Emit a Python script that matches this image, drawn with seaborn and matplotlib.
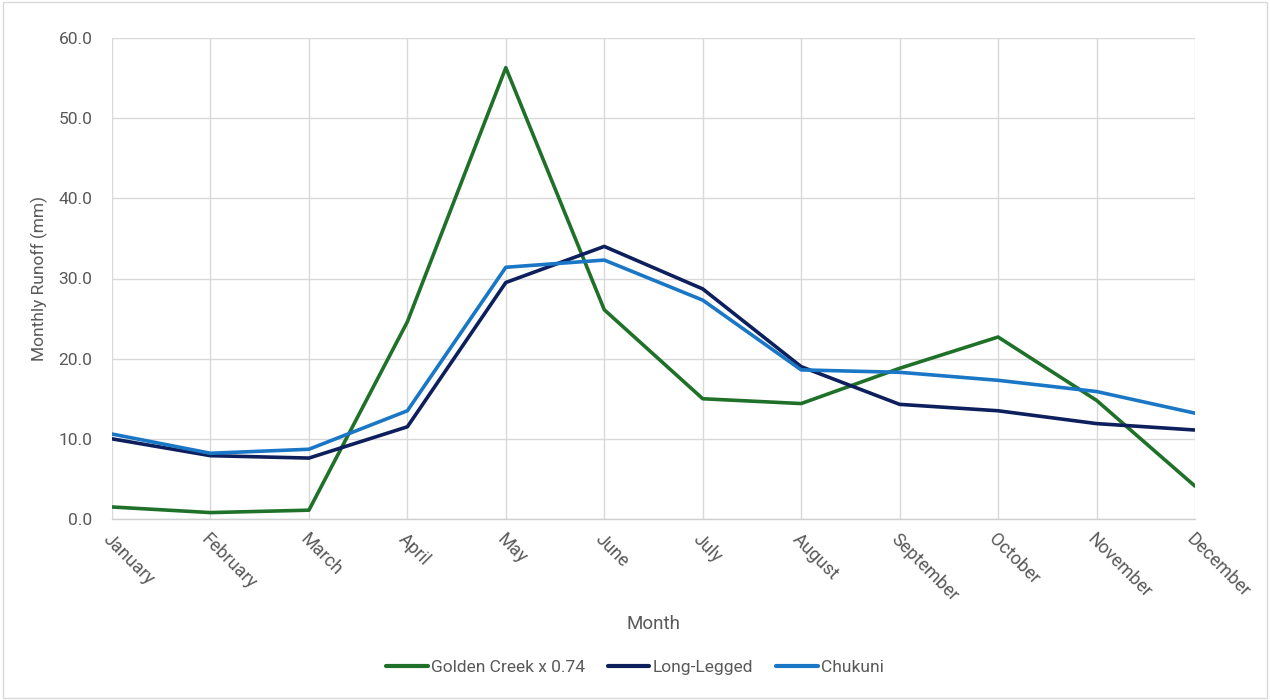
import matplotlib
matplotlib.use("Agg")
import matplotlib.pyplot as plt
import matplotlib.patches as mpatches
from matplotlib.ticker import FormatStrFormatter
import seaborn as sns
import pandas as pd

months = ["January", "February", "March", "April", "May", "June", "July",
          "August", "September", "October", "November", "December"]
golden_creek = [1.5, 0.8, 1.1, 24.6, 56.3, 26.1, 15.0, 14.4, 18.8, 22.7, 14.8, 4.1]
long_legged = [10.0, 7.9, 7.6, 11.5, 29.5, 34.0, 28.7, 19.0, 14.3, 13.5, 11.9, 11.1]
chukuni = [10.6, 8.2, 8.7, 13.5, 31.4, 32.3, 27.3, 18.6, 18.3, 17.3, 15.9, 13.2]

series_names = ["Golden Creek x 0.74", "Long-Legged", "Chukuni"]
series_colors = ["#1f7129", "#0d1f5c", "#1a77c6"]

df = pd.DataFrame({
    "Month": months * 3,
    "Runoff": golden_creek + long_legged + chukuni,
    "Series": [series_names[0]] * 12 + [series_names[1]] * 12 + [series_names[2]] * 12,
})
df["pos"] = list(range(12)) * 3

sns.set_theme(style="white")
plt.rcParams["font.family"] = ["Roboto", "DejaVu Sans"]
text_color = "#595959"

fig = plt.figure(figsize=(12.7, 7.0), dpi=100)
ax = fig.add_axes([112 / 1270, 1 - 519 / 700, (1195 - 112) / 1270, (519 - 38) / 700])

sns.lineplot(data=df, x="pos", y="Runoff", hue="Series", hue_order=series_names,
             palette=dict(zip(series_names, series_colors)), linewidth=2.6,
             ax=ax, legend=False, sort=False)

ax.set_xlim(0, 11)
ax.set_ylim(0, 60)
ax.set_yticks(range(0, 61, 10))
ax.yaxis.set_major_formatter(FormatStrFormatter("%.1f"))
ax.set_xticks(range(12))
ax.set_xticklabels(months, rotation=-45, ha="left", va="top",
                   rotation_mode="anchor", fontsize=13, color=text_color)
ax.tick_params(axis="x", length=0, pad=8)
ax.tick_params(axis="y", length=0, pad=14, labelsize=12.5, labelcolor=text_color)

ax.grid(True, color="#d9d9d9", linewidth=1.0)
ax.set_axisbelow(True)
for side in ["top", "right", "left"]:
    ax.spines[side].set_visible(False)
ax.spines["bottom"].set_color("#d0d0d0")
ax.spines["bottom"].set_linewidth(1.0)

ax.set_xlabel("Month", fontsize=13.5, color=text_color, labelpad=0)
ax.xaxis.set_label_coords(0.5, -0.2)
ax.set_ylabel("Monthly Runoff (mm)", fontsize=12.5, color=text_color)
ax.yaxis.set_label_coords(-0.059, 0.5)

handles = [plt.Line2D([0], [0], color=c, linewidth=3) for c in series_colors]
fig.legend(handles, series_names, loc="center", bbox_to_anchor=(0.5, 1 - 667 / 700),
           ncol=3, frameon=False, fontsize=12.5, labelcolor=text_color,
           handlelength=2.4, handletextpad=0.2, columnspacing=1.3)

fig.patches.append(mpatches.Rectangle((0.002, 0.003), 0.996, 0.994, transform=fig.transFigure,
                                      fill=False, edgecolor="#d9d9d9", linewidth=1.0))

fig.savefig("out.png", dpi=100, facecolor="white")
